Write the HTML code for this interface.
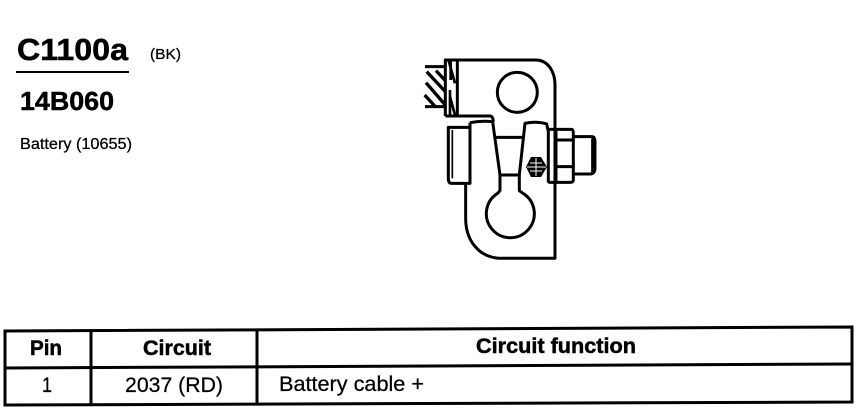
<!DOCTYPE html>
<html><head><meta charset="utf-8"><style>
html,body{margin:0;padding:0;background:#fff;width:864px;height:416px;overflow:hidden}
svg{display:block}
text{font-family:"Liberation Sans",sans-serif;fill:#000;stroke:#000;stroke-width:.25}
.b{font-weight:bold;stroke-width:.5}
</style></head><body>
<svg width="864" height="416" viewBox="0 0 864 416" xmlns="http://www.w3.org/2000/svg">
<text class="b" x="17" y="60" font-size="31" textLength="111" lengthAdjust="spacingAndGlyphs">C1100a</text>
<text x="150" y="59" font-size="15" textLength="31" lengthAdjust="spacingAndGlyphs">(BK)</text>
<rect x="16" y="71" width="113" height="2"/>
<text class="b" x="20" y="110" font-size="26" textLength="94" lengthAdjust="spacingAndGlyphs">14B060</text>
<text x="20" y="149" font-size="15.5" textLength="112" lengthAdjust="spacingAndGlyphs">Battery (10655)</text>

<g transform="translate(400,40) scale(0.3333)" fill="none" stroke="#000" stroke-width="9" stroke-linejoin="round">
<path d="M136 228V60H410C445 62 465 95 465 135V655H300C235 652 197 600 197 535V430"/>
<path d="M136 228H270C276 228 280 235 280 245"/>
<path d="M172 60V228"/>
<path d="M75 80H136M75 200H136"/>
<path d="M80 95L136 155M78 128L136 195M74 165L108 202M108 92L136 122" stroke-width="10"/>
<path d="M152 62V120M150 150V225M146 62L165 130M150 170L165 225" stroke-width="8"/>
<circle cx="352" cy="157" r="60"/>
<path d="M210 248C235 243 260 243 278 245L300 405H358L375 250C395 246 420 246 440 252L445 275V428"/>
<path d="M285 292H372"/>
<path d="M210 248V430H155C148 430 145 425 145 415V262H210"/>
<path d="M157 270V415" stroke-width="5"/>
<path d="M300 405V452L293 460A72 72 0 1 0 369 460L358 452V405"/>
<path d="M445 268H515C518 268 520 272 520 280V420C520 425 518 427 510 427H445"/>
<path d="M468 268V427M520 290H575C582 290 585 295 585 305V385C585 395 580 402 570 402H520M470 300L520 300M470 380H520M578 295V400"/>
</g>
<polygon points="531,157 541,157 547,167 541,177 531,177 526,167" fill="#000"/>
<path d="M536 158V176M527 167H546M530 163H542M530 171H542" stroke="#fff" stroke-width="1" fill="none"/>

<g fill="none" stroke="#000" stroke-width="3">
<polygon points="5,331 852,327 852,402 5,405"/>
<path d="M5 368L852 364"/>
<path d="M91 330V405M257 329V404"/>
</g>
<text class="b" x="30" y="355" font-size="21" textLength="32" lengthAdjust="spacingAndGlyphs">Pin</text>
<text class="b" x="143" y="355" font-size="21" textLength="68" lengthAdjust="spacingAndGlyphs">Circuit</text>
<text class="b" x="476" y="353" font-size="21" textLength="160" lengthAdjust="spacingAndGlyphs">Circuit function</text>
<text x="42" y="392" font-size="21" textLength="10" lengthAdjust="spacingAndGlyphs">1</text>
<text x="125" y="392" font-size="21" textLength="98" lengthAdjust="spacingAndGlyphs">2037 (RD)</text>
<text x="279" y="391" font-size="21" textLength="145" lengthAdjust="spacingAndGlyphs">Battery cable +</text>
</svg>
</body></html>
